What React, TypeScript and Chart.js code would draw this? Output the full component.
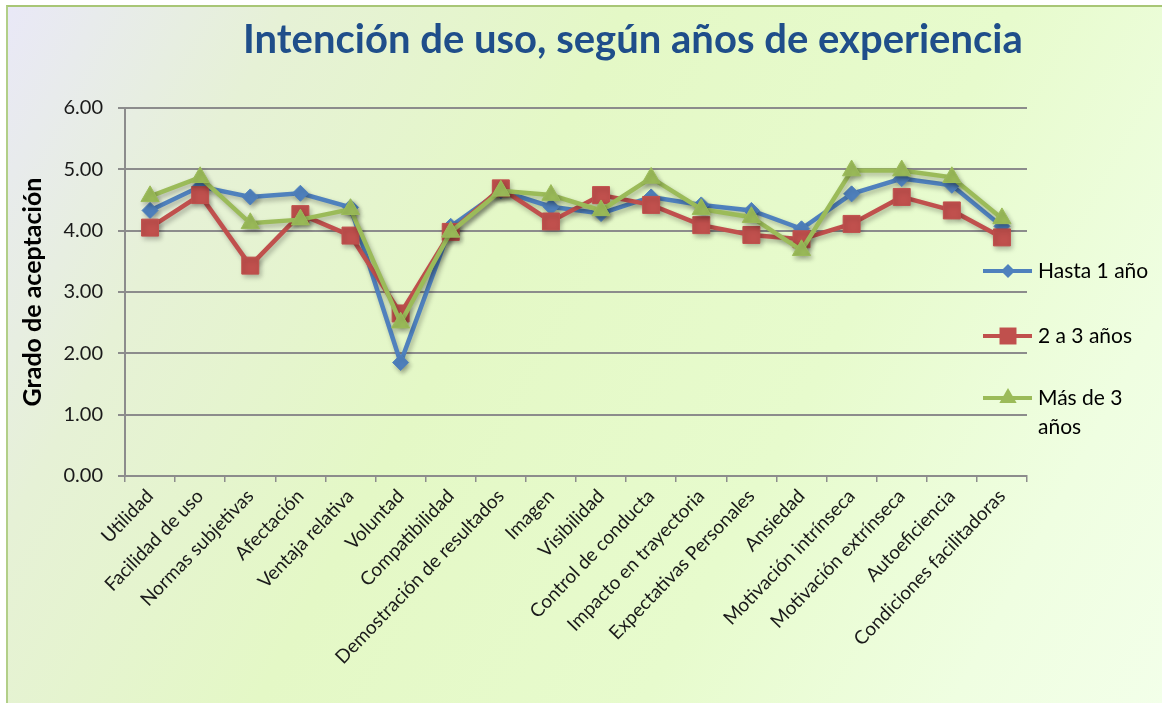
import React, { useEffect, useRef } from "react";
import { Chart, registerables } from "chart.js";

Chart.register(...registerables);

const categories = [
  "Utilidad",
  "Facilidad de uso",
  "Normas subjetivas",
  "Afectación",
  "Ventaja relativa",
  "Voluntad",
  "Compatibilidad",
  "Demostración de resultados",
  "Imagen",
  "Visibilidad",
  "Control de conducta",
  "Impacto en trayectoria",
  "Expectativas Personales",
  "Ansiedad",
  "Motivación intrínseca",
  "Motivación extrínseca",
  "Autoeficiencia",
  "Condiciones facilitadoras",
];

const hasta1Anio = [4.33, 4.72, 4.55, 4.61, 4.38, 1.85, 4.07, 4.65, 4.39, 4.28, 4.55, 4.42, 4.33, 4.03, 4.6, 4.85, 4.74, 4.07];
const dosA3Anios = [4.05, 4.58, 3.43, 4.27, 3.92, 2.65, 3.98, 4.69, 4.15, 4.58, 4.42, 4.09, 3.93, 3.86, 4.11, 4.55, 4.33, 3.89];
const masDe3Anios = [4.56, 4.87, 4.12, 4.18, 4.35, 2.5, 3.98, 4.65, 4.58, 4.33, 4.86, 4.35, 4.22, 3.68, 4.98, 4.98, 4.87, 4.2];

const seriesNames = ["Hasta 1 año", "2 a 3 años", ["Más de 3", "años"]];
const titleText = "Intención de uso, según años de experiencia";
const yAxisTitle = "Grado de aceptación";

const BLUE = "#4f81bd";
const RED = "#c0504d";
const GREEN = "#9bbb59";

const FONT = "Lato";

function drawMarker(ctx: CanvasRenderingContext2D, style: string, x: number, y: number, r: number, color: string) {
  ctx.save();
  ctx.fillStyle = color;
  ctx.beginPath();
  if (style === "rectRot") {
    ctx.moveTo(x - r, y);
    ctx.lineTo(x, y - r);
    ctx.lineTo(x + r, y);
    ctx.lineTo(x, y + r);
  } else if (style === "rect") {
    const s = r * Math.SQRT1_2;
    ctx.rect(x - s, y - s, 2 * s, 2 * s);
  } else {
    const h = r;
    ctx.moveTo(x, y - h);
    ctx.lineTo(x + h * 0.866, y + h * 0.5);
    ctx.lineTo(x - h * 0.866, y + h * 0.5);
  }
  ctx.closePath();
  ctx.fill();
  ctx.restore();
}

const decorPlugin = {
  id: "decor",
  beforeDatasetsDraw(chart: any) {
    const ctx = chart.ctx;
    ctx.save();
    ctx.shadowColor = "rgba(0,0,0,0.28)";
    ctx.shadowBlur = 5;
    ctx.shadowOffsetX = 2;
    ctx.shadowOffsetY = 3;
  },
  afterDatasetsDraw(chart: any) {
    chart.ctx.restore();
  },
  afterDraw(chart: any) {
    const ctx = chart.ctx as CanvasRenderingContext2D;
    const area = chart.chartArea;
    // Title
    ctx.save();
    ctx.font = `bold 40px ${FONT}`;
    ctx.fillStyle = "#1f4e8a";
    ctx.textAlign = "left";
    ctx.textBaseline = "alphabetic";
    const targetW = 784;
    ctx.fillText(titleText, area.right - targetW, 53, targetW);
    ctx.restore();

    // Legend
    const colors = [BLUE, RED, GREEN];
    const styles = ["rectRot", "rect", "triangle"];
    const radii = [7, 12, 10];
    const ys = [271, 336, 398];
    ctx.save();
    ctx.font = `21px ${FONT}`;
    ctx.fillStyle = "#000";
    ctx.textBaseline = "middle";
    ctx.textAlign = "left";
    for (let i = 0; i < 3; i++) {
      const y = ys[i];
      ctx.strokeStyle = colors[i];
      ctx.lineWidth = 4;
      ctx.beginPath();
      ctx.moveTo(983, y);
      ctx.lineTo(1032, y);
      ctx.stroke();
      drawMarker(ctx, styles[i], 1008, y, radii[i], colors[i]);
      const name = seriesNames[i];
      const lines = Array.isArray(name) ? name : [name];
      lines.forEach((t, j) => ctx.fillText(t, 1038, y + j * 29));
    }
    ctx.restore();
  },
};

export default function App() {
  const canvasRef = useRef<HTMLCanvasElement | null>(null);

  useEffect(() => {
    if (!canvasRef.current) return;
    const mk = (label: string, data: number[], color: string, pointStyle: string, radius: number, order: number) => ({
      label,
      data,
      borderColor: color,
      backgroundColor: color,
      borderWidth: 4.5,
      pointStyle,
      pointRadius: radius,
      pointHoverRadius: radius,
      pointBackgroundColor: color,
      pointBorderColor: color,
      pointBorderWidth: 1,
      tension: 0,
      order,
    });
    const chart = new Chart(canvasRef.current, {
      type: "line",
      data: {
        labels: categories,
        datasets: [
          mk("Hasta 1 año", hasta1Anio, BLUE, "rectRot", 8, 2),
          mk("2 a 3 años", dosA3Anios, RED, "rect", 12, 1),
          mk("Más de 3 años", masDe3Anios, GREEN, "triangle", 10.5, 0),
        ],
      },
      plugins: [decorPlugin],
      options: {
        animation: false,
        responsive: false,
        maintainAspectRatio: false,
        layout: { padding: { top: 108, right: 135, left: 0, bottom: 0 } },
        plugins: {
          legend: { display: false },
          title: { display: false },
          tooltip: { enabled: false },
        },
        scales: {
          x: {
            offset: true,
            afterFit: (s: any) => {
              s.height = 227;
            },
            grid: {
              offset: true,
              drawOnChartArea: false,
              drawTicks: true,
              tickLength: 6,
              color: "#8c8c8c",
              lineWidth: 1.5,
            },
            border: { display: true, color: "#8c8c8c", width: 2 },
            ticks: {
              autoSkip: false,
              minRotation: 46,
              maxRotation: 46,
              padding: 3,
              color: "#1a1a1a",
              font: { family: FONT, size: 19 },
            },
          },
          y: {
            min: 0,
            max: 6,
            afterFit: (s: any) => {
              s.width = 125;
            },
            ticks: {
              stepSize: 1,
              padding: 15,
              color: "#1a1a1a",
              font: { family: FONT, size: 20 },
              callback: (v: any) => Number(v).toFixed(2),
            },
            grid: {
              color: "#8c8c8c",
              lineWidth: 2,
              tickLength: 7,
            },
            border: { display: true, color: "#8c8c8c", width: 2 },
            title: {
              display: true,
              text: yAxisTitle,
              color: "#000",
              font: { family: FONT, size: 25, weight: "bold" },
              padding: { top: 18, bottom: 0 },
            },
          },
        },
      },
    });
    return () => chart.destroy();
  }, []);

  return (
    <div style={{ position: "fixed", left: 0, top: 0, width: 1162, height: 703, background: "#ffffff", overflow: "hidden" }}>
      <div
        style={{
          position: "absolute",
          left: 6,
          top: 5,
          width: 1170,
          height: 710,
          borderTop: "2px solid #a8c676",
          borderLeft: "2px solid #b2cf88",
          background:
            "linear-gradient(118deg, #e9e8f7 0%, #e6f1d6 18%, #e4f8c6 40%, #e7fbcd 65%, #effee1 85%, #f3ffea 100%)",
        }}
      />
      <canvas ref={canvasRef} width={1162} height={703} style={{ position: "absolute", left: 0, top: 0, width: 1162, height: 703 }} />
    </div>
  );
}
